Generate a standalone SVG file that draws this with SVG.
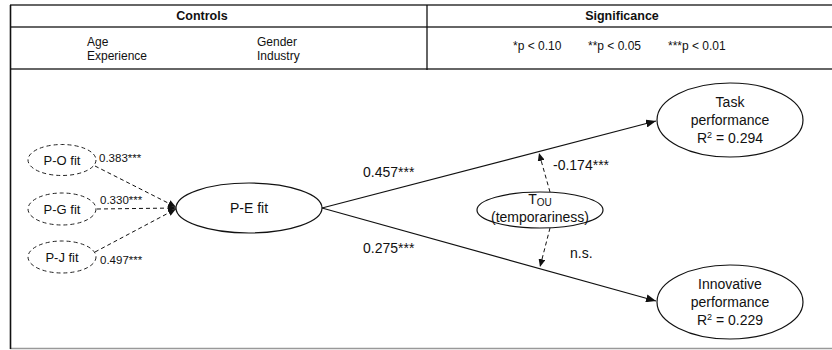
<svg xmlns="http://www.w3.org/2000/svg" width="832" height="350" viewBox="0 0 832 350">
<style>
text{font-family:"Liberation Sans",Arial,sans-serif;fill:#111}
.tb{font-size:12px}
.th{font-size:12.5px;font-weight:bold}
.n{font-size:14px}
.s{font-size:13px}
.c{font-size:11.5px}
.node{fill:#fff;stroke:#111;stroke-width:1.2}
.dn{fill:#fff;stroke:#222;stroke-width:1;stroke-dasharray:4,3}
.line{fill:none;stroke:#111;stroke-width:1.2}
.dl{fill:none;stroke:#111;stroke-width:1;stroke-dasharray:4,3}
</style>
<defs>
<marker id="ah" markerUnits="userSpaceOnUse" markerWidth="10" markerHeight="8" refX="10" refY="4" orient="auto"><path d="M0,0 L10,4 L0,8 z" fill="#111"/></marker>
<marker id="ahs" markerUnits="userSpaceOnUse" markerWidth="8" markerHeight="7" refX="8" refY="3.5" orient="auto"><path d="M0,0 L8,3.5 L0,7 z" fill="#111"/></marker>
</defs>
<g id="table">
<line x1="10" y1="5" x2="832" y2="5" stroke="#333" stroke-width="1.3"/>
<line x1="10" y1="27" x2="832" y2="27" stroke="#333" stroke-width="1.3"/>
<line x1="10" y1="69" x2="832" y2="69" stroke="#333" stroke-width="1.3"/>
<line x1="10" y1="348.5" x2="832" y2="348.5" stroke="#999" stroke-width="1.3"/>
<line x1="10.5" y1="5" x2="10.5" y2="349" stroke="#111" stroke-width="1.6"/>
<line x1="427" y1="5" x2="427" y2="70" stroke="#111" stroke-width="1.3"/>
<text class="th" x="202" y="20" text-anchor="middle">Controls</text>
<text class="th" x="622" y="20" text-anchor="middle">Significance</text>
<text class="tb" x="87" y="46">Age</text>
<text class="tb" x="87" y="60">Experience</text>
<text class="tb" x="257" y="46">Gender</text>
<text class="tb" x="257" y="60">Industry</text>
<text class="tb" x="513" y="50">*p &lt; 0.10</text>
<text class="tb" x="588" y="50">**p &lt; 0.05</text>
<text class="tb" x="668" y="50">***p &lt; 0.01</text>
</g>
<g id="connectors">
<path class="dl" d="M95,166 L176,207" marker-end="url(#ahs)"/>
<path class="dl" d="M97,209 L176,208" marker-end="url(#ahs)"/>
<path class="dl" d="M95,252 L176,209" marker-end="url(#ahs)"/>
<path class="line" d="M322,208 L656,121" marker-end="url(#ah)"/>
<path class="line" d="M322,208 L656,301" marker-end="url(#ah)"/>
<path class="dl" d="M550,192 L539,153" marker-end="url(#ahs)"/>
<path class="dl" d="M550,228 L540,267" marker-end="url(#ahs)"/>
<text class="c" x="99" y="162">0.383***</text>
<text class="c" x="100" y="204">0.330***</text>
<text class="c" x="100" y="264">0.497***</text>
<text class="n" x="363" y="177">0.457***</text>
<text class="n" x="363" y="253">0.275***</text>
<text class="n" x="553" y="170">-0.174***</text>
<text class="n" x="570" y="258">n.s.</text>
</g>
<g id="po"><ellipse class="dn" cx="62" cy="160" rx="34" ry="15.5"/><text class="s" x="62" y="165" text-anchor="middle">P-O fit</text></g>
<g id="pg"><ellipse class="dn" cx="62" cy="209" rx="34" ry="16"/><text class="s" x="62" y="214" text-anchor="middle">P-G fit</text></g>
<g id="pj"><ellipse class="dn" cx="62" cy="257" rx="34" ry="16"/><text class="s" x="62" y="262" text-anchor="middle">P-J fit</text></g>
<g id="pe"><ellipse class="node" cx="249" cy="208" rx="73" ry="25"/><text class="n" x="249" y="213" text-anchor="middle">P-E fit</text></g>
<g id="tou"><ellipse class="node" cx="540" cy="210" rx="63" ry="18"/><text class="n" x="540" y="204" text-anchor="middle">T<tspan font-size="10" dy="2">OU</tspan></text><text class="n" x="540" y="222" text-anchor="middle">(temporariness)</text></g>
<g id="task"><ellipse class="node" cx="730" cy="120" rx="73" ry="37"/><text class="n" x="730" y="107" text-anchor="middle">Task</text><text class="n" x="730" y="125" text-anchor="middle">performance</text><text class="n" x="730" y="143" text-anchor="middle">R<tspan font-size="9" dy="-5">2</tspan><tspan dy="5"> = 0.294</tspan></text></g>
<g id="innov"><ellipse class="node" cx="730" cy="302" rx="73" ry="37"/><text class="n" x="730" y="289" text-anchor="middle">Innovative</text><text class="n" x="730" y="307" text-anchor="middle">performance</text><text class="n" x="730" y="325" text-anchor="middle">R<tspan font-size="9" dy="-5">2</tspan><tspan dy="5"> = 0.229</tspan></text></g>
</svg>
